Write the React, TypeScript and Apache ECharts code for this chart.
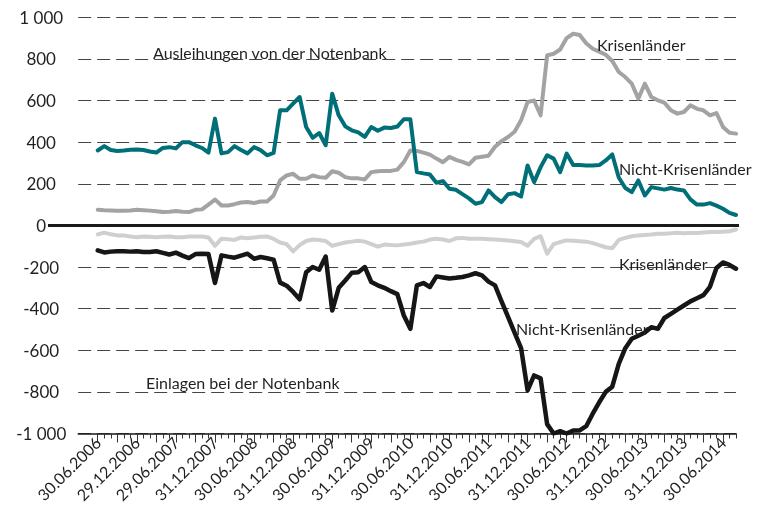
import React, { useEffect, useRef } from "react";
import * as echarts from "echarts";

const dateLabels = [
  "30.06.2006", "29.12.2006", "29.06.2007", "31.12.2007", "30.06.2008", "31.12.2008",
  "30.06.2009", "31.12.2009", "30.06.2010", "31.12.2010", "30.06.2011", "31.12.2011",
  "30.06.2012", "31.12.2012", "30.06.2013", "31.12.2013", "30.06.2014",
];

// monthly observations, June 2006 .. August 2014
const ausleihungenKrisen = [
  75, 73, 72, 70, 70, 72, 75, 73, 71, 68, 64, 66, 69, 66, 64, 75, 77, 100, 124, 96,
  96, 102, 110, 112, 108, 115, 115, 144, 216, 240, 248, 224, 224, 240, 232, 229, 260, 253, 232, 226,
  226, 221, 256, 260, 262, 262, 268, 304, 360, 358, 350, 340, 321, 304, 329, 315, 305, 293, 325, 330,
  335, 378, 405, 425, 450, 505, 593, 600, 529, 817, 825, 845, 900, 921, 915, 875, 849, 835, 820, 790,
  737, 713, 681, 609, 681, 617, 601, 590, 553, 537, 545, 577, 560, 553, 529, 540, 473, 445, 441,
];
const ausleihungenNichtKrisen = [
  360, 381, 362, 358, 360, 363, 365, 362, 355, 350, 372, 376, 370, 400, 400, 385, 372, 350, 513, 346,
  352, 381, 362, 346, 376, 362, 337, 348, 553, 553, 585, 617, 473, 421, 444, 385, 633, 529, 476, 457,
  447, 425, 473, 455, 470, 468, 475, 510, 510, 256, 250, 245, 205, 213, 176, 171, 150, 130, 104, 112,
  168, 136, 112, 150, 155, 139, 288, 208, 280, 337, 321, 256, 345, 290, 290, 288, 288, 290, 312, 341,
  230, 180, 160, 216, 144, 184, 178, 172, 180, 172, 168, 125, 100, 100, 107, 95, 80, 60, 50,
];
const einlagenKrisen = [
  -43, -35, -43, -48, -48, -53, -57, -53, -55, -57, -55, -53, -57, -57, -53, -53, -53, -58, -98, -64,
  -66, -70, -58, -62, -58, -55, -53, -65, -82, -90, -125, -95, -75, -68, -70, -75, -98, -90, -82, -78,
  -74, -78, -90, -102, -92, -94, -96, -92, -88, -82, -78, -68, -64, -68, -75, -62, -60, -64, -64, -64,
  -66, -68, -70, -72, -76, -80, -98, -65, -52, -136, -90, -80, -72, -74, -76, -78, -85, -95, -105, -110,
  -70, -60, -52, -48, -46, -44, -40, -40, -38, -35, -38, -36, -36, -34, -32, -32, -30, -28, -20,
];
const einlagenNichtKrisen = [
  -120, -130, -126, -124, -124, -126, -124, -128, -128, -124, -132, -140, -131, -145, -157, -138, -136, -138, -277, -144,
  -150, -155, -145, -136, -160, -152, -158, -165, -275, -290, -320, -355, -225, -200, -213, -150, -409, -300, -265, -228,
  -225, -200, -272, -288, -300, -316, -330, -433, -497, -288, -277, -296, -245, -250, -255, -252, -248, -240, -230, -240,
  -270, -288, -365, -440, -515, -590, -793, -721, -735, -955, -1000, -989, -1000, -986, -985, -965, -905, -850, -800, -775,
  -665, -590, -545, -530, -515, -489, -497, -445, -425, -405, -385, -365, -350, -335, -295, -205, -178, -190, -208,
];

const PAD = 3;
const FONT = "Lato, 'Open Sans', sans-serif";

export default function App() {
  const ref = useRef<HTMLDivElement>(null);
  useEffect(() => {
    document.body.style.margin = "0";
    const chart = echarts.init(ref.current!, undefined, { renderer: "svg" });
    const n = ausleihungenKrisen.length;
    const cats: string[] = [];
    for (let i = 0; i < PAD; i++) cats.push("pad" + i);
    for (let k = 0; k < n; k++) {
      const y = 2006 + Math.floor((5 + k) / 12);
      const m = ((5 + k) % 12) + 1;
      cats.push(y + "-" + String(m).padStart(2, "0"));
    }
    const pad = (arr: number[]) => [...new Array(PAD).fill(null), ...arr];
    const lineSeries = (name: string, data: number[], color: string, width: number) => ({
      type: "line",
      name,
      data: pad(data),
      xAxisIndex: 0,
      yAxisIndex: 0,
      symbol: "none",
      lineStyle: { color, width, join: "round", cap: "round" },
      silent: true,
    });
    const textEl = (text: string, x: number, y: number) => ({
      type: "text",
      left: x,
      top: y,
      style: { text, fill: "#231f20", font: `16px ${FONT}`, verticalAlign: "middle" },
      z: 10,
    });
    chart.setOption({
      animation: false,
      grid: { left: 78.2, right: 27, top: 17.3, bottom: 90.5, outerBoundsMode: "none" },
      xAxis: [
        {
          type: "category",
          data: cats,
          boundaryGap: false,
          axisLine: { onZero: false, lineStyle: { color: "#1a1a1a", width: 1.5 } },
          axisTick: {
            interval: (i: number) => i >= PAD,
            length: 5,
            lineStyle: { color: "#333", width: 1 },
          },
          axisLabel: {
            interval: (i: number) => i >= PAD && (i - PAD) % 6 === 0,
            formatter: (_v: string, i: number) => dateLabels[(i - PAD) / 6] ?? "",
            rotate: 45,
            margin: 6,
            color: "#231f20",
            fontFamily: FONT,
            fontSize: 16,
          },
          splitLine: { show: false },
        },
        {
          type: "category",
          data: cats,
          position: "bottom",
          boundaryGap: false,
          axisLine: { show: false, onZero: false },
          axisTick: {
            interval: (i: number) => i >= PAD && (i - PAD) % 3 === 0,
            length: 9,
            lineStyle: { color: "#333", width: 1 },
          },
          axisLabel: { show: false },
          splitLine: { show: false },
        },
      ],
      yAxis: {
        type: "value",
        min: -1000,
        max: 1000,
        interval: 200,
        axisLine: { show: false },
        axisTick: { show: false },
        axisLabel: {
          align: "center",
          margin: 37,
          color: "#231f20",
          fontFamily: FONT,
          fontSize: 17,
          formatter: (v: number) => {
            const a = Math.abs(v);
            const s = a >= 1000 ? Math.floor(a / 1000) + " " + String(a % 1000).padStart(3, "0") : String(a);
            return (v < 0 ? "-" : "") + s;
          },
        },
        splitLine: {
          lineStyle: { color: "#444", width: 1, type: [13, 6] },
        },
      },
      series: [
        lineSeries("Ausleihungen Krisenländer", ausleihungenKrisen, "#a3a3a3", 4),
        lineSeries("Ausleihungen Nicht-Krisenländer", ausleihungenNichtKrisen, "#006f78", 4),
        lineSeries("Einlagen Krisenländer", einlagenKrisen, "#cfcfcf", 4),
        lineSeries("Einlagen Nicht-Krisenländer", einlagenNichtKrisen, "#161616", 4.5),
      ],
    });
    const y0 = chart.convertToPixel({ yAxisIndex: 0 }, 0) as number;
    const xEnd = chart.convertToPixel({ xAxisIndex: 0 }, cats.length - 1) as number;
    chart.setOption({
      graphic: [
        {
          type: "line",
          shape: { x1: 48, y1: y0, x2: xEnd + 3, y2: y0 },
          style: { stroke: "#1a1a1a", lineWidth: 3 },
          z: 5,
        },
        textEl("Ausleihungen von der Notenbank", 153, 44),
        textEl("Krisenländer", 597, 36),
        textEl("Nicht-Krisenländer", 619, 160),
        textEl("Krisenländer", 619, 255),
        textEl("Nicht-Krisenländer", 516, 320),
        textEl("Einlagen bei der Notenbank", 146, 374),
      ],
    });
    return () => chart.dispose();
  }, []);
  return <div ref={ref} style={{ position: "fixed", left: 0, top: 0, width: 763, height: 524 }} />;
}
